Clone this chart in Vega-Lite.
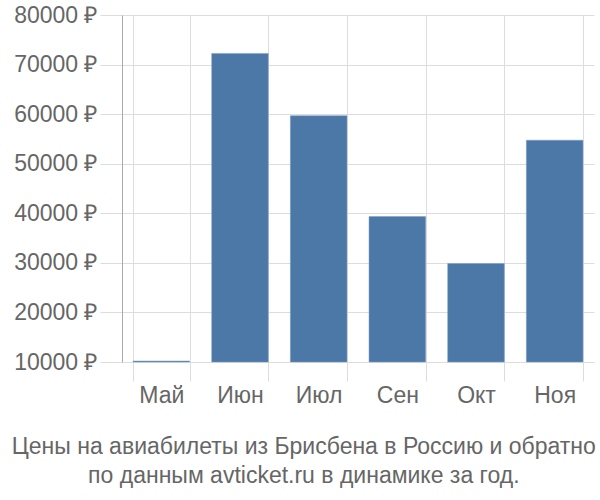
{
  "$schema": "https://vega.github.io/schema/vega-lite/v6.json",
  "autosize": "none",
  "padding": {"left": 122, "top": 15, "right": 6, "bottom": 138},
  "width": 472,
  "height": 347,
  "background": "white",
  "config": {
    "font": "Liberation Sans",
    "view": {"stroke": null}
  },
  "title": {
    "text": ["Цены на авиабилеты из Брисбена в Россию и обратно", "по данным avticket.ru в динамике за год."],
    "orient": "bottom",
    "anchor": "middle",
    "frame": "bounds",
    "font": "Liberation Sans",
    "fontSize": 23,
    "fontWeight": "normal",
    "color": "#666666",
    "lineHeight": 29,
    "offset": 29
  },
  "data": {
    "values": [
      {"month": "Май", "price": 10200},
      {"month": "Июн", "price": 72250},
      {"month": "Июл", "price": 59700},
      {"month": "Сен", "price": 39350},
      {"month": "Окт", "price": 29880},
      {"month": "Ноя", "price": 54750}
    ]
  },
  "mark": {"type": "bar", "color": "#4c78a8", "stroke": "#7f9fc4", "strokeWidth": 0.5},
  "encoding": {
    "x": {
      "field": "month",
      "type": "nominal",
      "sort": null,
      "title": null,
      "scale": {"paddingInner": 0.28, "paddingOuter": 0.14},
      "axis": {
        "tickBand": "extent",
        "grid": true,
        "gridColor": "#dddddd",
        "tickColor": "#dddddd",
        "tickSize": 19,
        "domain": false,
        "labelAngle": 0,
        "labelFontSize": 23,
        "labelColor": "#666666",
        "labelPadding": 3,
        "labelFont": "Liberation Sans"
      }
    },
    "y": {
      "field": "price",
      "type": "quantitative",
      "title": null,
      "scale": {"domain": [10000, 80000], "zero": false, "nice": false},
      "axis": {
        "values": [10000, 20000, 30000, 40000, 50000, 60000, 70000, 80000],
        "labelExpr": "datum.value + ' ₽'",
        "grid": true,
        "gridColor": "#dddddd",
        "tickColor": "#dddddd",
        "tickSize": 22,
        "domainColor": "#aaaaaa",
        "labelFontSize": 23,
        "labelColor": "#666666",
        "labelPadding": 3,
        "labelFont": "Liberation Sans"
      }
    },
    "y2": {"datum": 10000}
  }
}
